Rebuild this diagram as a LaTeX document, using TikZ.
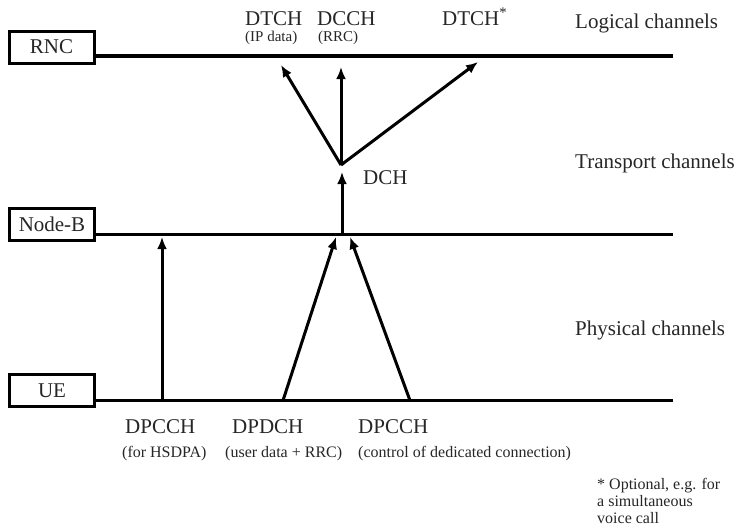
\documentclass[tikz,border=0pt]{standalone}
\usepackage{fontspec}
\setmainfont{Liberation Serif}
\usetikzlibrary{arrows.meta}
\begin{document}
\begin{tikzpicture}[x=1pt,y=-1pt,
  entity/.style={draw, line width=3pt, inner sep=0pt, minimum width=85pt, minimum height=32pt,
    font=\fontsize{21}{25}\selectfont, text=black!85},
  chan/.style={line width=3.8pt},
  arr/.style={line width=3pt, -{Latex[length=12pt,width=10pt]}},
  big/.style={anchor=base west, inner sep=0pt, font=\fontsize{21}{25}\selectfont, text=black!85},
  small/.style={anchor=base west, inner sep=0pt, font=\fontsize{16}{18}\selectfont, text=black!85},
  tiny/.style={anchor=base west, inner sep=0pt, font=\fontsize{15}{17}\selectfont, text=black!85}]
\useasboundingbox (0,0) rectangle (739,530);

% entities
\node[entity] (rnc) at (51.5,47) {RNC};
\node[entity] (nodeb) at (52,224.5) {Node-B};
\node[entity] (ue) at (52,390.5) {UE};

% channel lines
\coordinate (rncend) at (673,56);
\coordinate (nbend) at (673,234.5);
\coordinate (ueend) at (673,400.5);
\draw[chan] (rnc.east |- rncend) -- (rncend);
\draw[chan] (nodeb.east |- nbend) -- (nbend);
\draw[chan] (ue.east |- ueend) -- (ueend);

% upper arrows
\coordinate (j) at (341,165);
\coordinate (dtchtip) at (281,65);
\coordinate (dcchtip) at (341,67);
\coordinate (dtchstip) at (478,62);
\coordinate (dchbase) at (342,234.5);
\coordinate (dchtip) at (342,172);
\draw[arr] (j) -- (dtchtip);
\draw[arr] (j) -- (dcchtip);
\draw[arr] (j) -- (dtchstip);
\draw[arr] (dchbase) -- (dchtip);

% lower arrows
\coordinate (hsbase) at (162,400.5);
\coordinate (hstip) at (162,237);
\coordinate (dpdbase) at (283,400.5);
\coordinate (dpdtip) at (336,237);
\coordinate (dpcbase) at (410,400.5);
\coordinate (dpctip) at (350,237);
\draw[arr] (hsbase) -- (hstip);
\draw[arr] (dpdbase) -- (dpdtip);
\draw[arr] (dpcbase) -- (dpctip);

% top labels
\node[big] (ldtch) at (245,25) {DTCH};
\node[tiny] (lip) at (245,41) {(IP data)};
\node[big] (ldcch) at (317,25) {DCCH};
\node[tiny] (lrrc) at (318,41) {(RRC)};
\node[big] (ldtchs) at (442,25) {DTCH\textsuperscript{*}};
\node[big] (llog) at (575,28) {Logical channels};
\node[big] (ltra) at (575,168) {Transport channels};
\node[big] (ldch) at (363,184) {DCH};
\node[big] (lphy) at (575,335) {Physical channels};

% bottom labels
\node[big] (lhs) at (125,433) {DPCCH};
\node[small] (lhss) at (122,457) {(for HSDPA)};
\node[big] (ldpd) at (232,433) {DPDCH};
\node[small] (ldpds) at (225,457) {(user data + RRC)};
\node[big] (ldpc) at (358,433) {DPCCH};
\node[small] (ldpcs) at (358,457) {(control of dedicated connection)};

% footnote
\node[small] (fn1) at (597,489) {* Optional, e.g. for};
\node[small] (fn2) at (597,506) {a simultaneous};
\node[small] (fn3) at (597,523) {voice call};
\end{tikzpicture}
\end{document}
